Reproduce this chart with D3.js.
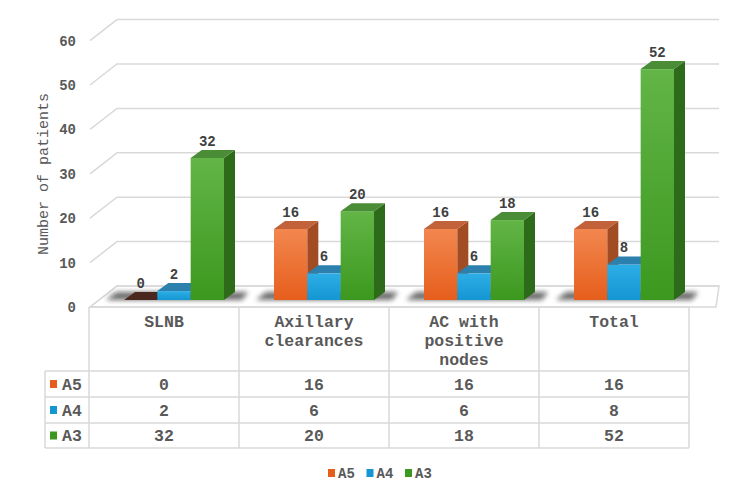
<!DOCTYPE html>
<html lang="en">
<head>
    <meta charset="UTF-8">
    <title>Number of patients</title>
    <script src="https://d3js.org/d3.v7.min.js"></script>
    <style>
        body { margin: 0; background: #fff; }
        svg text { font-family: "Liberation Mono", "Courier New", monospace; fill: #595959; }
    </style>
</head>
<body>
    <div id="chart"></div>

    <script>
        // data
        const categories = ["SLNB", "Axillary clearances", "AC with positive nodes", "Total"];
        const headerLines = [["SLNB"], ["Axillary", "clearances"], ["AC with", "positive", "nodes"], ["Total"]];
        const seriesNames = ["A5", "A4", "A3"];
        const a5 = [0, 16, 16, 16];
        const a4 = [2, 6, 6, 8];
        const a3 = [32, 20, 18, 52];
        const yTicks = [0, 10, 20, 30, 40, 50, 60];

        const seriesValues = [a5, a4, a3];
        const colors = {
            A5: { light: "#f2874f", dark: "#e65e1c", side: "#a24c24", top: "#c2623a", zero: "#4a281d" },
            A4: { light: "#2eaee6", dark: "#1496d3", side: "#1c6c95", top: "#2b80ad", zero: "#1c6c95" },
            A3: { light: "#62b546", dark: "#3c981f", side: "#2d6b1b", top: "#4b8c37", zero: "#2d6b1b" }
        };

        const width = 750, height = 493;
        // 3d offsets: whole depth of the floor, and depth of a bar
        const depthX = 27, depthY = 21;
        const barDx = 11, barDy = 8;
        const planeX = 9, planeY = 7;   // bar front plane relative to floor front

        const svg = d3.select("#chart").append("svg")
            .attr("width", width)
            .attr("height", height);

        const defs = svg.append("defs");
        seriesNames.forEach(s => {
            const g = defs.append("linearGradient")
                .attr("id", "grad" + s)
                .attr("x1", 0).attr("y1", 0).attr("x2", 0).attr("y2", 1);
            g.append("stop").attr("offset", "0%").attr("stop-color", colors[s].light);
            g.append("stop").attr("offset", "100%").attr("stop-color", colors[s].dark);
        });
        defs.append("filter").attr("id", "blur")
            .attr("x", "-20%").attr("y", "-100%").attr("width", "140%").attr("height", "300%")
            .append("feGaussianBlur").attr("stdDeviation", 2.5);

        // scales (y for the bar front plane)
        const y = d3.scaleLinear().domain([0, 60]).range([300, 33.6]);
        const x0 = d3.scaleBand().domain(categories).range([89, 689]);
        const x1 = d3.scaleBand().domain(seriesNames).range([26, 126]);

        const yFront = v => y(v) + planeY;
        const yBack = v => y(v) + planeY - depthY;
        const left = 90, backLeft = left + depthX, backRight = 719;

        // floor
        svg.append("path")
            .attr("d", `M${left},${yFront(0)} L${backLeft},${yBack(0)} L${backRight},${yBack(0)} L${689 + depthX},${yFront(0)} Z`)
            .attr("fill", "#fff")
            .attr("stroke", "#d9d9d9")
            .attr("stroke-width", 1.5);

        // gridlines: left wall diagonals and back wall
        const grid = svg.append("g");
        yTicks.forEach(t => {
            grid.append("path")
                .attr("d", `M${left},${yFront(t)} L${backLeft},${yBack(t)} L${backRight},${yBack(t)}`)
                .attr("fill", "none")
                .attr("stroke", "#d9d9d9")
                .attr("stroke-width", 1.5);
            grid.append("text")
                .attr("x", 76)
                .attr("y", yFront(t))
                .attr("dy", "0.35em")
                .attr("text-anchor", "end")
                .style("font-size", "14px")
                .style("font-weight", "bold")
                .text(t);
        });

        svg.append("text")
            .attr("transform", `translate(48,${174}) rotate(-90)`)
            .attr("text-anchor", "middle")
            .style("font-size", "15px")
            .text("Number of patients");

        // shadows under each group
        categories.forEach(c => {
            const gx = x0(c) + planeX + x1.range()[0];
            const gw = x1.range()[1] - x1.range()[0];
            svg.append("path")
                .attr("d", `M${gx - 18},${y(0)} L${gx - 8},${y(0) - 8} L${gx + gw + 24},${y(0) - 8} L${gx + gw + 18},${y(0)} Z`)
                .attr("fill", "#111")
                .attr("opacity", 0.6)
                .attr("filter", "url(#blur)");
        });

        // bars
        const bars = svg.append("g");
        categories.forEach((c, ci) => {
            seriesNames.forEach((s, si) => {
                const v = seriesValues[si][ci];
                const bx = x0(c) + planeX + x1(s);
                const bw = x1.bandwidth();
                const top = y(v), bottom = y(0);

                if (v > 0) {
                    bars.append("rect")
                        .attr("x", bx).attr("y", top)
                        .attr("width", bw).attr("height", bottom - top)
                        .attr("fill", `url(#grad${s})`);
                    bars.append("path")
                        .attr("d", `M${bx + bw},${top} L${bx + bw + barDx},${top - barDy} L${bx + bw + barDx},${bottom - barDy} L${bx + bw},${bottom} Z`)
                        .attr("fill", colors[s].side);
                }
                bars.append("path")
                    .attr("d", `M${bx},${top} L${bx + barDx},${top - barDy} L${bx + bw + barDx},${top - barDy} L${bx + bw},${top} Z`)
                    .attr("fill", v > 0 ? colors[s].top : colors[s].zero);

                bars.append("text")
                    .attr("x", bx + bw / 2)
                    .attr("y", top - 12)
                    .attr("text-anchor", "middle")
                    .style("font-size", "14px")
                    .style("font-weight", "bold")
                    .style("fill", "#404040")
                    .text(v);
            });
        });

        // data table
        const table = svg.append("g");
        const rowY = [307, 371, 397, 423, 448];
        const colX = categories.map(c => x0(c)).concat([x0.range()[1]]);
        const lineStyle = sel => sel.attr("stroke", "#d9d9d9").attr("stroke-width", 1.5);

        table.append("line").attr("x1", 89).attr("x2", 689).attr("y1", rowY[0]).attr("y2", rowY[0]).call(lineStyle);
        rowY.slice(1).forEach(ry => {
            table.append("line").attr("x1", 45).attr("x2", 689).attr("y1", ry).attr("y2", ry).call(lineStyle);
        });
        colX.forEach(cx => {
            table.append("line").attr("x1", cx).attr("x2", cx).attr("y1", rowY[0]).attr("y2", rowY[4]).call(lineStyle);
        });
        table.append("line").attr("x1", 45).attr("x2", 45).attr("y1", rowY[1]).attr("y2", rowY[4]).call(lineStyle);

        categories.forEach((c, ci) => {
            const cx = x0(c) + x0.bandwidth() / 2;
            headerLines[ci].forEach((ln, li) => {
                table.append("text")
                    .attr("x", cx)
                    .attr("y", 327 + li * 19)
                    .attr("text-anchor", "middle")
                    .style("font-size", "16.5px")
                    .style("font-weight", "bold")
                    .text(ln);
            });
            seriesNames.forEach((s, si) => {
                table.append("text")
                    .attr("x", cx)
                    .attr("y", (rowY[si + 1] + rowY[si + 2]) / 2)
                    .attr("dy", "0.35em")
                    .attr("text-anchor", "middle")
                    .style("font-size", "16.5px")
                    .style("font-weight", "bold")
                    .text(seriesValues[si][ci]);
            });
        });

        seriesNames.forEach((s, si) => {
            const cy = (rowY[si + 1] + rowY[si + 2]) / 2;
            table.append("rect")
                .attr("x", 50).attr("y", cy - 4)
                .attr("width", 7).attr("height", 8)
                .attr("fill", colors[s].dark);
            table.append("text")
                .attr("x", 62).attr("y", cy)
                .attr("dy", "0.35em")
                .style("font-size", "16.5px")
                .style("font-weight", "bold")
                .text(s);
        });

        // bottom legend
        const legend = svg.append("g").attr("transform", "translate(328,473)");
        seriesNames.forEach((s, i) => {
            const lx = i * 38.5;
            legend.append("rect")
                .attr("x", lx).attr("y", -4)
                .attr("width", 7).attr("height", 8)
                .attr("fill", colors[s].dark);
            legend.append("text")
                .attr("x", lx + 10).attr("y", 0)
                .attr("dy", "0.35em")
                .style("font-size", "14px")
                .style("font-weight", "bold")
                .text(s);
        });
    </script>
</body>
</html>
